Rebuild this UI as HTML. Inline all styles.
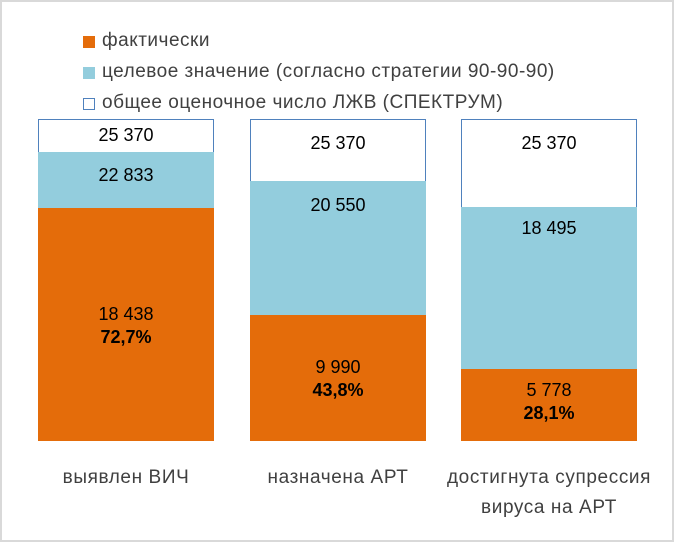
<!DOCTYPE html><html><head><meta charset="utf-8"><style>
body{margin:0;width:674px;height:542px;background:#fff;font-family:"Liberation Sans","DejaVu Sans",sans-serif;}
.f{position:absolute;left:0;top:0;width:670px;height:538px;border:2px solid #d9d9d9;}
.t{position:absolute;font-size:19px;letter-spacing:0.5px;color:#404040;white-space:nowrap}
.sq{position:absolute;width:12px;height:12px;}
.b{position:absolute;box-sizing:border-box;}
.n{position:absolute;font-size:18px;color:#000;text-align:center;width:176px;line-height:23px}
.c{font-size:19px;letter-spacing:0.6px;color:#404040}
</style></head><body><div class="f"></div>
<div class="sq" style="left:83px;top:36px;background:#e46c0a"></div><div class="t" style="left:102px;top:30px">фактически</div>
<div class="sq" style="left:83px;top:67px;background:#93cddd"></div><div class="t" style="left:102px;top:61px">целевое значение (согласно стратегии 90-90-90)</div>
<div class="sq" style="left:83px;top:98px;border:1px solid #4f81bd;width:10px;height:10px;background:#fff"></div><div class="t" style="left:102px;top:92px">общее оценочное число ЛЖВ (СПЕКТРУМ)</div>

<div class="b" style="left:38px;top:119px;width:176px;height:322px;border:1px solid #4f81bd;background:#fff"></div>
<div class="b" style="left:38px;top:152px;width:176px;height:289px;background:#93cddd"></div>
<div class="b" style="left:38px;top:208px;width:176px;height:233px;background:#e46c0a"></div>
<div class="n" style="left:38px;top:124px">25 370</div>
<div class="n" style="left:38px;top:164px">22 833</div>
<div class="n" style="left:38px;top:303px">18 438<br><b>72,7%</b></div>

<div class="b" style="left:250px;top:119px;width:176px;height:322px;border:1px solid #4f81bd;background:#fff"></div>
<div class="b" style="left:250px;top:181px;width:176px;height:260px;background:#93cddd"></div>
<div class="b" style="left:250px;top:315px;width:176px;height:126px;background:#e46c0a"></div>
<div class="n" style="left:250px;top:132px">25 370</div>
<div class="n" style="left:250px;top:194px">20 550</div>
<div class="n" style="left:250px;top:356px">9 990<br><b>43,8%</b></div>

<div class="b" style="left:461px;top:119px;width:176px;height:322px;border:1px solid #4f81bd;background:#fff"></div>
<div class="b" style="left:461px;top:207px;width:176px;height:234px;background:#93cddd"></div>
<div class="b" style="left:461px;top:369px;width:176px;height:72px;background:#e46c0a"></div>
<div class="n" style="left:461px;top:132px">25 370</div>
<div class="n" style="left:461px;top:217px">18 495</div>
<div class="n" style="left:461px;top:379px">5 778<br><b>28,1%</b></div>

<div class="n c" style="left:28px;top:466px;width:196px">выявлен ВИЧ</div>
<div class="n c" style="left:240px;top:466px;width:196px">назначена АРТ</div>
<div class="n c" style="left:431px;top:463px;width:236px;line-height:30px">достигнута супрессия<br>вируса на АРТ</div>
</body></html>
